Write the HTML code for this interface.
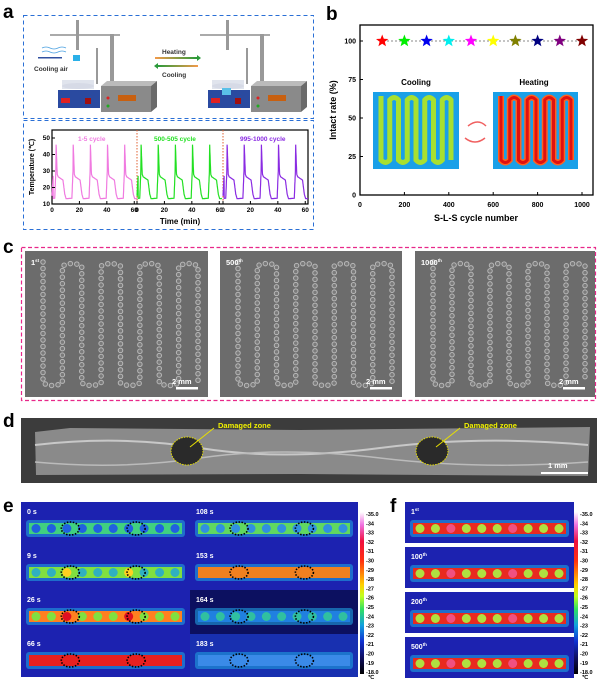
<!DOCTYPE html>
<html><head><meta charset="utf-8"><style>
body{margin:0;background:#fff}
svg{display:block;font-family:"Liberation Sans",Arial,sans-serif}
</style></head><body>
<svg id="s" width="600" height="679" viewBox="0 0 600 679" xmlns="http://www.w3.org/2000/svg">
<defs>
<linearGradient id="cb" x1="0" y1="0" x2="0" y2="1">
<stop offset="0" stop-color="#fff"/><stop offset="0.08" stop-color="#f070e0"/><stop offset="0.18" stop-color="#f01040"/><stop offset="0.3" stop-color="#ff3010"/><stop offset="0.45" stop-color="#ffd000"/><stop offset="0.52" stop-color="#c0ff20"/><stop offset="0.6" stop-color="#30e060"/><stop offset="0.7" stop-color="#10a0e0"/><stop offset="0.8" stop-color="#1030d0"/><stop offset="0.9" stop-color="#101060"/><stop offset="1" stop-color="#000"/>
</linearGradient>
<linearGradient id="ar1" x1="0" x2="1"><stop offset="0" stop-color="#f39a4a"/><stop offset="1" stop-color="#2a9a3a"/></linearGradient>
<linearGradient id="ar2" x1="1" x2="0"><stop offset="0" stop-color="#f39a4a"/><stop offset="1" stop-color="#2a9a3a"/></linearGradient>
</defs>
<g font-weight="bold" font-size="19" fill="#000">
<text x="3" y="18">a</text><text x="326" y="20">b</text><text x="3" y="253">c</text><text x="3" y="427">d</text><text x="3" y="512">e</text><text x="390" y="512">f</text>
</g>
<rect x="23.5" y="15.5" width="290" height="103" fill="none" stroke="#2a6fd6" stroke-dasharray="4,3"/>
<rect x="23.5" y="120.5" width="290" height="109" fill="none" stroke="#2a6fd6" stroke-dasharray="4,3"/>
<g id="cartoon"></g>
<text x="34" y="71" font-size="6.5" font-weight="bold" fill="#333">Cooling air</text>
<text x="162" y="54" font-size="6.5" font-weight="bold" fill="#333">Heating</text>
<text x="162" y="77" font-size="6.5" font-weight="bold" fill="#333">Cooling</text>
<rect x="155" y="57" width="42" height="2" fill="url(#ar1)"/><path d="M197 55 L201 58 L197 61Z" fill="#2a9a3a"/>
<rect x="158" y="65" width="40" height="2" fill="url(#ar2)"/><path d="M158 63 L154 66 L158 69Z" fill="#2a9a3a"/>
<rect x="52" y="130" width="256" height="74" fill="none" stroke="#000" stroke-width="1.2"/>
<line x1="137" y1="130" x2="137" y2="204" stroke="#e06030" stroke-dasharray="1.5,1.5"/>
<line x1="223" y1="130" x2="223" y2="204" stroke="#e06030" stroke-dasharray="1.5,1.5"/>
<g id="tc"></g>
<text x="78" y="141" font-size="6.5" font-weight="bold" fill="#f07ae0">1-5 cycle</text>
<text x="154" y="141" font-size="6.5" font-weight="bold" fill="#22e022">500-505 cycle</text>
<text x="240" y="141" font-size="6.5" font-weight="bold" fill="#8a2be2">995-1000 cycle</text>
<g font-size="6.5" font-weight="bold" text-anchor="end" id="ayt"></g>
<text transform="translate(34,167) rotate(-90)" font-size="7" font-weight="bold" text-anchor="middle">Temperature (℃)</text>
<text x="180" y="224" font-size="8" font-weight="bold" text-anchor="middle">Time (min)</text>
<rect x="360" y="25" width="233" height="170" fill="none" stroke="#000" stroke-width="1.3"/>
<line x1="383" y1="41" x2="582" y2="41" stroke="#888" stroke-dasharray="2,2"/>
<g id="stars"></g>
<g id="bt" font-size="7" font-weight="bold"></g>
<text transform="translate(336,110) rotate(-90)" font-size="9" font-weight="bold" text-anchor="middle">Intact rate (%)</text>
<text x="476" y="221" font-size="9" font-weight="bold" text-anchor="middle">S-L-S cycle number</text>
<text x="416" y="85" font-size="8" font-weight="bold" text-anchor="middle">Cooling</text>
<text x="534" y="85" font-size="8" font-weight="bold" text-anchor="middle">Heating</text>
<rect x="373" y="92" width="86" height="77" fill="#1aa0e8"/>
<rect x="493" y="92" width="85" height="77" fill="#1aa0e8"/>
<path id="serp1" d="" fill="none" stroke="#a8e030" stroke-width="5"/>
<path id="serp2" d="" fill="none" stroke="#ff6020" stroke-width="6"/>
<path id="serp3" d="" fill="none" stroke="#e01010" stroke-width="3"/>
<path d="M468 126 Q478 118 486 126" fill="none" stroke="#f06060" stroke-width="1.5"/>
<path d="M485 138 Q475 146 465 138" fill="none" stroke="#f06060" stroke-width="1.5"/>
<rect x="21.5" y="247.5" width="574" height="153" fill="none" stroke="#e8288a" stroke-dasharray="4,2.5" stroke-width="1.2"/>
<g id="sem"></g>
<rect x="21" y="418" width="576" height="65" fill="#3c3c3c"/>
<path d="M35 432 L70 428 L300 430 L590 427 L588 476 L300 474 L36 475 Z" fill="#8a8a8a"/>
<path d="M35 445 Q120 435 200 448 T380 448 T588 445" fill="none" stroke="#c8c8c8" stroke-width="2"/>
<path d="M35 462 Q120 470 200 458 T380 458 T588 462" fill="none" stroke="#bbb" stroke-width="1.5"/>
<ellipse cx="187" cy="451" rx="16" ry="14" fill="#2a2a2a" stroke="#e8e000" stroke-dasharray="1.5,1.2"/>
<ellipse cx="432" cy="451" rx="16" ry="14" fill="#2a2a2a" stroke="#e8e000" stroke-dasharray="1.5,1.2"/>
<line x1="190" y1="447" x2="214" y2="428" stroke="#e8e000"/><line x1="436" y1="447" x2="460" y2="428" stroke="#e8e000"/>
<text x="218" y="428" font-size="7.5" font-weight="bold" fill="#f0f000">Damaged zone</text>
<text x="464" y="428" font-size="7.5" font-weight="bold" fill="#f0f000">Damaged zone</text>
<text x="548" y="468" font-size="7.5" font-weight="bold" fill="#fff">1 mm</text>
<rect x="541" y="472" width="47" height="2" fill="#fff"/>
<g id="th"></g>
<rect x="360" y="512" width="4" height="162" fill="url(#cb)"/>
<rect x="574" y="512" width="4" height="162" fill="url(#cb)"/>
<g id="cbl" font-size="5.5" font-weight="bold"></g>
</svg>
<script>
const NS="http://www.w3.org/2000/svg";
function el(p,t,a,txt){const e=document.createElementNS(NS,t);for(const k in a)e.setAttribute(k,a[k]);if(txt!==undefined)e.textContent=txt;document.getElementById(p).appendChild(e);return e;}
function rig(ox){
 el('cartoon','rect',{x:ox+50,y:34,width:70,height:2,fill:'#aaa'});
 el('cartoon','rect',{x:ox+110,y:34,width:4,height:55,fill:'#999'});
 el('cartoon','rect',{x:ox+101,y:86,width:50,height:26,fill:'#8a8a8a'});
 el('cartoon','path',{d:`M${ox+101} 86 l6 -5 h50 l-6 5z`,fill:'#bbb'});
 el('cartoon','path',{d:`M${ox+151} 86 l6 -5 v26 l-6 5z`,fill:'#6a6a6a'});
 el('cartoon','rect',{x:ox+118,y:95,width:18,height:6,fill:'#c86010'});
 el('cartoon','circle',{cx:ox+108,cy:98,r:1.5,fill:'#d22'});
 el('cartoon','circle',{cx:ox+108,cy:106,r:1.5,fill:'#2a2'});
 el('cartoon','rect',{x:ox+76,y:20,width:3,height:30,fill:'#999'});
 el('cartoon','rect',{x:ox+58,y:90,width:42,height:18,fill:'#2a4aa0'});
 el('cartoon','rect',{x:ox+61,y:98,width:9,height:5,fill:'#e02020'});
 el('cartoon','rect',{x:ox+85,y:98,width:6,height:6,fill:'#a01010'});
 el('cartoon','ellipse',{cx:ox+78,cy:86,rx:16,ry:3,fill:'#ccd'});
 el('cartoon','rect',{x:ox+62,y:80,width:32,height:9,fill:'#d8dde8',opacity:0.8});
 el('cartoon','rect',{x:ox+96,y:48,width:2,height:36,fill:'#999'});
}
rig(0);rig(150);
el('cartoon','rect',{x:73,y:55,width:7,height:6,fill:'#2ab0e8'});
el('cartoon','rect',{x:222,y:88,width:9,height:7,fill:'#5ac0e8'});
el('cartoon','path',{d:'M42 48 q4 -2 8 0 t8 0 t8 0 M42 52 q4 -2 8 0 t8 0 t8 0',stroke:'#4aa0e0',fill:'none','stroke-width':0.8});
el('cartoon','rect',{x:38,y:57,width:24,height:1.5,fill:'#3050a0'});
function Tval(t){const per=12.5,p0=3;let tt=((t-p0)%per+per)%per;
 const k=[[0,46],[0.8,28],[1.5,26.5],[5,24.5],[6.3,16],[7.3,13.2],[11.5,13.5],[12.3,30],[12.5,46]];
 for(let i=0;i<k.length-1;i++){if(tt>=k[i][0]&&tt<=k[i+1][0]){const f=(tt-k[i][0])/(k[i+1][0]-k[i][0]);return k[i][1]+f*(k[i+1][1]-k[i][1]);}}return 46;}
const segs=[[52,'#f07ae0'],[137,'#22e022'],[223,'#8a2be2']];
segs.forEach(([x0,c],si)=>{let d='';for(let t=0;t<=62;t+=0.1){let v=t<0.8?15+t*15:Tval(t);const x=x0+t*(85/62),y=204-(v-10)*(66/40);d+=(d?'L':'M')+x.toFixed(1)+' '+y.toFixed(1);}
 el('tc','path',{d,fill:'none',stroke:c,'stroke-width':1.2});
 [0,20,40,60].forEach(v=>{const x=x0+v*85/62;el('tc','line',{x1:x,y1:204,x2:x,y2:201,stroke:'#000'});el('tc','text',{x:x,y:212,'font-size':6.5,'font-weight':'bold','text-anchor':'middle'},v);});});
[10,20,30,40,50].forEach(v=>{const y=204-(v-10)*66/40;el('ayt','text',{x:50,y:y+2},v);el('tc','line',{x1:52,y1:y,x2:55,y2:y,stroke:'#000'});});
const sc=['#ff0000','#00ee00','#0000ee','#00eeee','#ff00ff','#ffff00','#808000','#000080','#800080','#800000'];
function star(cx,cy,r){let d='';for(let i=0;i<10;i++){const a=-Math.PI/2+i*Math.PI/5,rr=i%2?r*0.42:r;d+=(i?'L':'M')+(cx+rr*Math.cos(a)).toFixed(1)+' '+(cy+rr*Math.sin(a)).toFixed(1);}return d+'Z';}
sc.forEach((c,i)=>el('stars','path',{d:star(360+(i+1)*100*0.222,41,6.5),fill:c}));
[0,200,400,600,800,1000].forEach(v=>{const x=360+v*0.222;el('bt','text',{x,y:207,'text-anchor':'middle'},v);el('bt','line',{x1:x,y1:195,x2:x,y2:192,stroke:'#000'});});
[0,25,50,75,100].forEach(v=>{const y=195-v*1.54;el('bt','text',{x:356,y:y+2.5,'text-anchor':'end'},v);el('bt','line',{x1:360,y1:y,x2:363,y2:y,stroke:'#000'});});
function serp(x0,w,n,top,bot){const s=w/(2*n);let d=`M${x0} ${top-4}`;let x=x0;for(let i=0;i<n;i++){d+=`L${x} ${bot} Q${x+s/2} ${bot+5} ${x+s} ${bot} L${x+s} ${top} Q${x+1.5*s} ${top-5} ${x+2*s} ${top}`;x+=2*s;}d+=`L${x} ${bot}`;return d;}
document.getElementById('serp1').setAttribute('d',serp(381,70,4,100,160));
document.getElementById('serp2').setAttribute('d',serp(501,70,4,100,160));
document.getElementById('serp3').setAttribute('d',serp(501,70,4,100,160));
const labs=['1st','500th','1000th'];
[[25,183],[220,182],[415,180]].forEach(([x,w],i)=>{
 el('sem','rect',{x,y:251,width:w,height:146,fill:'#6c6c6c'});
 const d=serp(x+18,w-28,4,266,383);
 el('sem','path',{d,fill:'none',stroke:'#b8b8b8','stroke-width':5.5,'stroke-dasharray':'0 6.5','stroke-linecap':'round'});
 el('sem','path',{d,fill:'none',stroke:'#7a7a7a','stroke-width':3.5,'stroke-dasharray':'0 6.5','stroke-linecap':'round'});
 const t=el('sem','text',{x:x+6,y:265,'font-size':7.5,'font-weight':'bold',fill:'#fff'},labs[i].replace(/(st|th)$/,''));
 const ts=document.createElementNS(NS,'tspan');ts.setAttribute('font-size',4.5);ts.setAttribute('dy',-3);ts.textContent=labs[i].match(/(st|th)$/)[0];t.appendChild(ts);
 el('sem','text',{x:x+w-36,y:384,'font-size':7.5,'font-weight':'bold',fill:'#fff'},'2 mm');
 el('sem','rect',{x:x+w-32,y:387,width:22,height:2.5,fill:'#fff'});
});
function strip(x,y,w,h,bg,sc,cc,hot,lab,sup,dots){
 el('th','rect',{x,y,width:w,height:h,fill:bg});
 const sx=x+8,sw=w-16,sy=y+21,shh=11;
 el('th','rect',{x:sx-3,y:sy-3,width:sw+6,height:shh+6,fill:'#20a0e0',opacity:0.6,rx:3});
 el('th','rect',{x:sx,y:sy,width:sw,height:shh,fill:sc});
 if(cc)for(let i=0;i<10;i++){el('th','circle',{cx:sx+7+i*(sw-14)/9,cy:sy+shh/2,r:4.5,fill:(hot&&(i==2||i==6))?hot:cc});}
 if(dots){[0.27,0.7].forEach(f=>el('th','ellipse',{cx:sx+f*sw,cy:sy+shh/2,rx:9,ry:6.5,fill:'none',stroke:'#000','stroke-width':1.6,'stroke-dasharray':'1.5,1.5'}));}
 const t=el('th','text',{x:x+6,y:y+12,'font-size':7,'font-weight':'bold',fill:'#fff'},lab);
 if(sup){const ts=document.createElementNS(NS,'tspan');ts.setAttribute('font-size',4.5);ts.setAttribute('dy',-3);ts.textContent=sup;t.appendChild(ts);}
}
const bg='#1c22b0';
strip(21,502,169,44,bg,'#40d080','#2060e0',null,'0 s',0,1);
strip(21,546,169,44,bg,'#80e040','#30b0c0','#ffd020','9 s',0,1);
strip(21,590,169,44,bg,'#ff8020','#80e040','#e01020','26 s',0,1);
strip(21,634,169,43,bg,'#e82020',null,null,'66 s',0,1);
strip(190,502,168,44,bg,'#60d860','#3090e0',null,'108 s',0,1);
strip(190,546,168,44,bg,'#f08020',null,null,'153 s',0,1);
strip(190,590,168,44,'#0c1060','#2080e0','#30c0a0',null,'164 s',0,1);
strip(190,634,168,43,'#1830b0','#3a8ae8',null,null,'183 s',0,1);
[[502,'1','st'],[547,'100','th'],[592,'200','th'],[637,'500','th']].forEach(([y,l,s])=>strip(405,y,169,41,bg,'#e82a20','#b0e040','#f05080',l,s,0));
for(let i=0;i<=17;i++){const v=35-i,y=514+i*9.3;const t=i==0?'35.0':i==17?'18.0':String(v);
 el('cbl','text',{x:366,y:y+2},'-'+t);el('cbl','text',{x:580,y:y+2},'-'+t);}
el('cbl','text',{x:368,y:679},'℃');el('cbl','text',{x:582,y:679},'℃');
</script>
</body></html>
